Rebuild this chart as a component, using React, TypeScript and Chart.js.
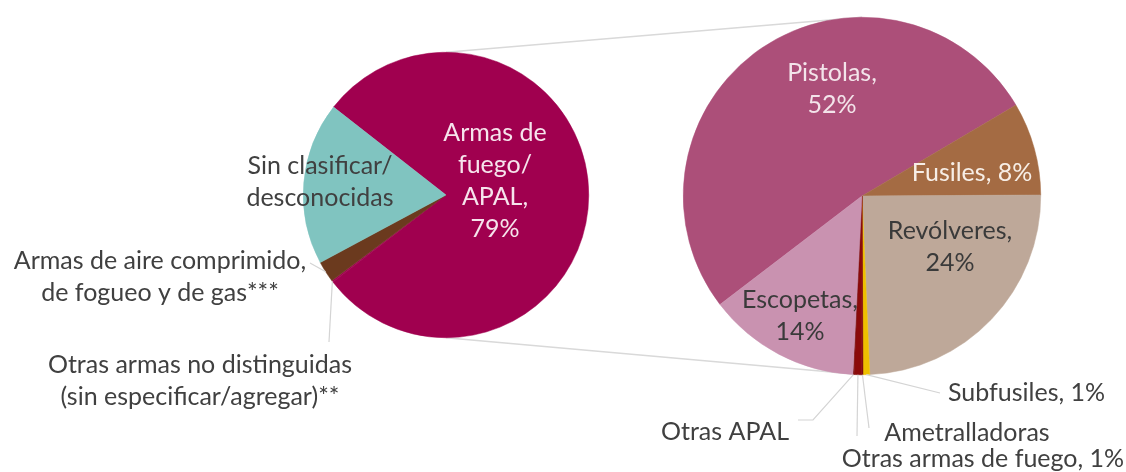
import React, { useEffect, useRef } from "react";
import { Chart, registerables } from "chart.js";

Chart.register(...registerables);

// ---- data ----
const mainCategories = [
  "Armas de fuego/APAL",
  "Otras armas no distinguidas (sin especificar/agregar)**",
  "Armas de aire comprimido, de fogueo y de gas***",
  "Sin clasificar/desconocidas",
];
const mainValues = [79.0, 0.2, 2.4, 18.4];
const mainLabelLines = [
  ["Armas de", "fuego/", "APAL,", "79%"],
  ["Otras armas no distinguidas", "(sin especificar/agregar)**"],
  ["Armas de aire comprimido,", "de fogueo y de gas***"],
  ["Sin clasificar/", "desconocidas"],
];

const subCategories = [
  "Pistolas",
  "Fusiles",
  "Revólveres",
  "Subfusiles",
  "Ametralladoras",
  "Otras armas de fuego",
  "Otras APAL",
  "Escopetas",
];
const subValues = [51.9, 8.4, 24.4, 0.6, 0.1, 0.7, 0.1, 13.8];
const subLabelLines = [
  ["Pistolas,", "52%"],
  ["Fusiles, 8%"],
  ["Revólveres,", "24%"],
  ["Subfusiles, 1%"],
  ["Ametralladoras"],
  ["Otras armas de fuego, 1%"],
  ["Otras APAL"],
  ["Escopetas,", "14%"],
];

// ---- styles / layout ----
const W = 1126;
const H = 472;
const FONT = "Lato, 'Open Sans', sans-serif";
const FONT_SIZE = 25;
const LINE_H = 32;

const mainColors = ["#A0004F", "#A0004F", "#6B3A1E", "#80C4C0"];
const subColors = [
  "#AC4F79",
  "#A46B43",
  "#BEA899",
  "#EEC000",
  "#7A0A0A",
  "#8B0A0A",
  "#7A0A0A",
  "#C992B0",
];

type LabelSpec = {
  dx: number;
  dy: number;
  color: string;
  align?: CanvasTextAlign;
  leader?: [number, number][];
};

const mainLabelLayout: LabelSpec[] = [
  { dx: 49, dy: -14, color: "#F6E4EC" },
  { dx: -246, dy: 186, color: "#404040", leader: [[-117, 147]] },
  { dx: -286, dy: 82, color: "#404040", leader: [[-136, 68]] },
  { dx: -126, dy: -13, color: "#404040" },
];

const subLabelLayout: LabelSpec[] = [
  { dx: -30, dy: -107, color: "#F3E4EA" },
  { dx: 110, dy: -23, color: "#F7EEE6" },
  { dx: 88, dy: 51, color: "#3A3A3A" },
  { dx: 86, dy: 197, color: "#404040", align: "left", leader: [[78, 197]] },
  { dx: 105, dy: 237, color: "#404040", leader: [[7, 232]] },
  { dx: 121, dy: 263, color: "#404040", leader: [[-5, 240]] },
  { dx: -137, dy: 236, color: "#404040", leader: [[-49, 224], [-64, 224]] },
  { dx: -62, dy: 120, color: "#3A3A3A" },
];

function labelPlugin(lines: string[][], layout: LabelSpec[]) {
  return {
    id: "pieLabels",
    afterDatasetsDraw(chart: any) {
      const ctx = chart.ctx as CanvasRenderingContext2D;
      const meta = chart.getDatasetMeta(0);
      ctx.save();
      ctx.font = `${FONT_SIZE}px ${FONT}`;
      ctx.textBaseline = "middle";
      meta.data.forEach((arc: any, i: number) => {
        const spec = layout[i];
        const cx = arc.x;
        const cy = arc.y;
        if (spec.leader) {
          const mid = (arc.startAngle + arc.endAngle) / 2;
          const r = arc.outerRadius;
          ctx.beginPath();
          ctx.strokeStyle = "#D4D4D4";
          ctx.lineWidth = 1.2;
          ctx.moveTo(cx + Math.cos(mid) * r, cy + Math.sin(mid) * r);
          spec.leader.forEach(([lx, ly]) => ctx.lineTo(cx + lx, cy + ly));
          ctx.stroke();
        }
        const ls = lines[i];
        const x0 = cx + spec.dx;
        const y0 = cy + spec.dy - ((ls.length - 1) * LINE_H) / 2;
        ctx.fillStyle = spec.color;
        ctx.textAlign = spec.align || "center";
        ls.forEach((t, k) => ctx.fillText(t, x0, y0 + k * LINE_H));
      });
      ctx.restore();
    },
  };
}

function connectorPlugin(getOther: () => Chart | null) {
  return {
    id: "connectors",
    beforeDatasetsDraw(chart: any) {
      const other = getOther();
      if (!other) return;
      const a = chart.getDatasetMeta(0).data[0] as any;
      const b = other.getDatasetMeta(0).data[0] as any;
      const ctx = chart.ctx as CanvasRenderingContext2D;
      ctx.save();
      ctx.strokeStyle = "#D9D9D9";
      ctx.lineWidth = 1.5;
      ctx.beginPath();
      ctx.moveTo(a.x, a.y - a.outerRadius);
      ctx.lineTo(b.x, b.y - b.outerRadius);
      ctx.moveTo(a.x, a.y + a.outerRadius);
      ctx.lineTo(b.x, b.y + b.outerRadius);
      ctx.stroke();
      ctx.restore();
    },
  };
}

export default function App() {
  const leftRef = useRef<HTMLCanvasElement>(null);
  const rightRef = useRef<HTMLCanvasElement>(null);

  useEffect(() => {
    const right = new Chart(rightRef.current!, {
      type: "pie",
      data: {
        labels: subCategories,
        datasets: [
          {
            data: subValues,
            backgroundColor: subColors,
            borderColor: subColors,
            borderWidth: 0.5,
          },
        ],
      },
      options: {
        responsive: false,
        animation: false,
        devicePixelRatio: 1,
        rotation: 232.6,
        layout: { padding: { left: 683, right: 85, top: 17, bottom: 97 } },
        plugins: { legend: { display: false }, tooltip: { enabled: false } },
        events: [],
      },
      plugins: [labelPlugin(subLabelLines, subLabelLayout)],
    });

    const left = new Chart(leftRef.current!, {
      type: "pie",
      data: {
        labels: mainCategories,
        datasets: [
          {
            data: mainValues,
            backgroundColor: mainColors,
            borderColor: mainColors,
            borderWidth: 0.5,
          },
        ],
      },
      options: {
        responsive: false,
        animation: false,
        devicePixelRatio: 1,
        rotation: 308,
        layout: { padding: { left: 303, right: 537, top: 52, bottom: 134 } },
        plugins: { legend: { display: false }, tooltip: { enabled: false } },
        events: [],
      },
      plugins: [connectorPlugin(() => right), labelPlugin(mainLabelLines, mainLabelLayout)],
    });

    return () => {
      left.destroy();
      right.destroy();
    };
  }, []);

  const canvasStyle: React.CSSProperties = {
    position: "absolute",
    left: 0,
    top: 0,
    width: W,
    height: H,
  };

  return (
    <div
      style={{
        position: "absolute",
        left: 0,
        top: 0,
        width: W,
        height: H,
        background: "#FFFFFF",
      }}
    >
      <canvas ref={leftRef} width={W} height={H} style={canvasStyle} />
      <canvas ref={rightRef} width={W} height={H} style={canvasStyle} />
    </div>
  );
}
